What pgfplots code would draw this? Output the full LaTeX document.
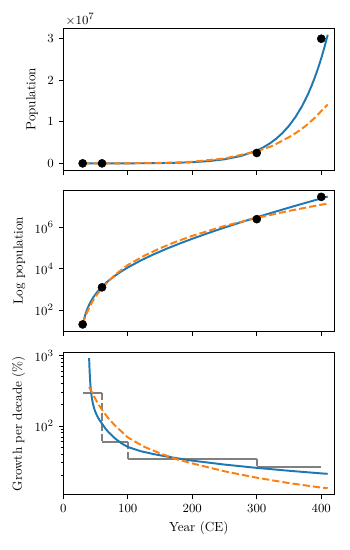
\documentclass[border=0pt]{standalone}
\usepackage{pgfplots}
\pgfplotsset{compat=1.18}
\definecolor{mplblue}{HTML}{1F77B4}
\definecolor{mplorange}{HTML}{FF7F0E}
\definecolor{stepgray}{HTML}{808080}

\pgfplotsset{
  panel/.style={
    scale only axis, width=195bp, height=102bp,
    xmin=0, xmax=420, xtick={0,100,200,300,400},
    axis line style={black, line width=0.6bp},
    tick style={black, line width=0.6bp},
    major tick length=3.4bp, minor tick length=2bp,
    tick align=outside, xtick pos=left, ytick pos=left,
    tick label style={font=\fontsize{9.5}{11}\selectfont},
    label style={font=\fontsize{9.5}{11}\selectfont},
  },
  blueline/.style={mplblue, line width=1.4bp, no markers, line join=round},
  orangeline/.style={mplorange, line width=1.4bp, no markers, dash pattern=on 5.2bp off 2.2bp},
  stepline/.style={stepgray, line width=1.4bp, no markers},
  dots/.style={only marks, mark=*, mark size=2.9bp, black},
}

\begin{document}
\begin{tikzpicture}

% population, linear
\begin{axis}[panel, at={(0,0)}, anchor=north west,
  ymin=-1.6e6, ymax=3.25e7, ytick={0,1e7,2e7,3e7},
  scaled y ticks=base 10:-7,
  ytick scale label code/.code={$\times 10^{#1}$},
  every y tick scale label/.style={at={(rel axis cs:0,1)}, anchor=south west,
    inner sep=1.5bp, font=\fontsize{9.5}{11}\selectfont},
  xticklabels={}, ylabel={Population}]
\addplot[blueline] coordinates {
  (30,16.44) (31,24.18) (32,33.59) (33,44.75) (34,57.72) (35,72.61) (37,108.4)
  (40,178.5) (43,270.6) (46,387.1) (50,585.6) (55,913.9) (60,1347) (70,2603)
  (80,4541) (90,7394) (100,11468) (120,24930) (140,49390) (160,91940)
  (180,163600) (200,281200) (225,533600) (250,980300) (275,1.756e6)
  (300,3.083e6) (310,3.842e6) (320,4.775e6) (330,5.922e6) (340,7.329e6)
  (350,9.051e6) (360,1.116e7) (370,1.372e7) (375,1.522e7) (380,1.686e7)
  (385,1.867e7) (390,2.067e7) (395,2.288e7) (400,2.531e7) (405,2.799e7)
  (410,3.095e7)};
\addplot[orangeline] coordinates {
  (30,20.9) (32,31.6) (34,46.8) (37,79.4) (40,125.9) (45,251.2) (50,457.1)
  (60,1148) (70,2512) (80,5012) (100,15140) (125,41690) (150,97720)
  (175,204200) (200,389000) (250,1.175e6) (300,2.864e6) (325,4.25e6)
  (350,6.31e6) (360,7.24e6) (375,8.91e6) (390,1.096e7) (400,1.259e7)
  (410,1.413e7)};
\addplot[dots] coordinates {(30,20) (60,1250) (300,2.5e6) (400,3e7)};
\end{axis}

% population, log
\begin{axis}[panel, at={(0,-116.4bp)}, anchor=north west,
  ymode=log, ymin=8.9, ymax=6.46e7, ytick={1e2,1e4,1e6}, minor ytick={},
  xticklabels={}, ylabel={Log population}]
\addplot[blueline] coordinates {
  (30,16.44) (31,24.18) (32,33.59) (33,44.75) (34,57.72) (35,72.61) (37,108.4)
  (40,178.5) (43,270.6) (46,387.1) (50,585.6) (55,913.9) (60,1347) (70,2603)
  (80,4541) (90,7394) (100,11468) (120,24930) (140,49390) (160,91940)
  (180,163600) (200,281200) (225,533600) (250,980300) (275,1.756e6)
  (300,3.083e6) (325,5.320e6) (350,9.051e6) (375,1.522e7) (400,2.531e7)
  (410,3.095e7)};
\addplot[orangeline] coordinates {
  (30,20.9) (32,31.6) (34,46.8) (37,79.4) (40,125.9) (45,251.2) (50,457.1)
  (60,1148) (70,2512) (80,5012) (100,15140) (125,41690) (150,97720)
  (175,204200) (200,389000) (250,1.175e6) (300,2.864e6) (325,4.25e6)
  (350,6.31e6) (375,8.91e6) (400,1.259e7) (410,1.413e7)};
\addplot[dots] coordinates {(30,20) (60,1250) (300,2.5e6) (400,3e7)};
\end{axis}

% growth per decade
\begin{axis}[panel, at={(0,-233.6bp)}, anchor=north west,
  ymode=log, ymin=10.7, ymax=1096, ytick={100,1000},
  minor ytick={20,30,40,50,60,70,80,90,200,300,400,500,600,700,800,900},
  xlabel={Year (CE)}, ylabel={Growth per decade (\%)}]
\addplot[stepline] coordinates {(30,297) (60,297)};
\addplot[stepline] coordinates {(60,60) (100,60)};
\addplot[stepline] coordinates {(100,34) (300,34)};
\addplot[stepline] coordinates {(300,26) (400,26)};
\addplot[stepline, dash pattern=on 5.2bp off 2.2bp] coordinates {(60,297) (60,60)};
\addplot[stepline, dash pattern=on 5.2bp off 2.2bp] coordinates {(100,60) (100,34)};
\addplot[stepline, dash pattern=on 5.2bp off 2.2bp] coordinates {(300,34) (300,26)};
\addplot[blueline] coordinates {
  (40,920) (40.4,720) (40.8,590) (41.3,480) (41.9,395) (42.6,330) (43.5,280)
  (44.5,242) (46,205) (48,176) (50,156) (53,136) (56,122) (60,108) (65,93)
  (70,82) (80,67) (90,57) (100,50.5) (120,44) (140,40) (160,37) (180,34.5)
  (200,32.3) (250,28.4) (300,25.5) (350,23.2) (400,21.3) (410,21.0)};
\addplot[orangeline] coordinates {
  (40,360) (42,330) (45,295) (50,240) (55,200) (60,170) (70,128) (80,102)
  (100,69) (125,51) (150,41) (175,34) (200,29.5) (250,22.8) (300,18.5)
  (350,15.5) (400,13.4) (410,13.1)};
\end{axis}

\pgfresetboundingbox
\path[use as bounding box] (-45.6bp,20.4bp) rectangle (206.4bp,-375.6bp);
\end{tikzpicture}
\end{document}
